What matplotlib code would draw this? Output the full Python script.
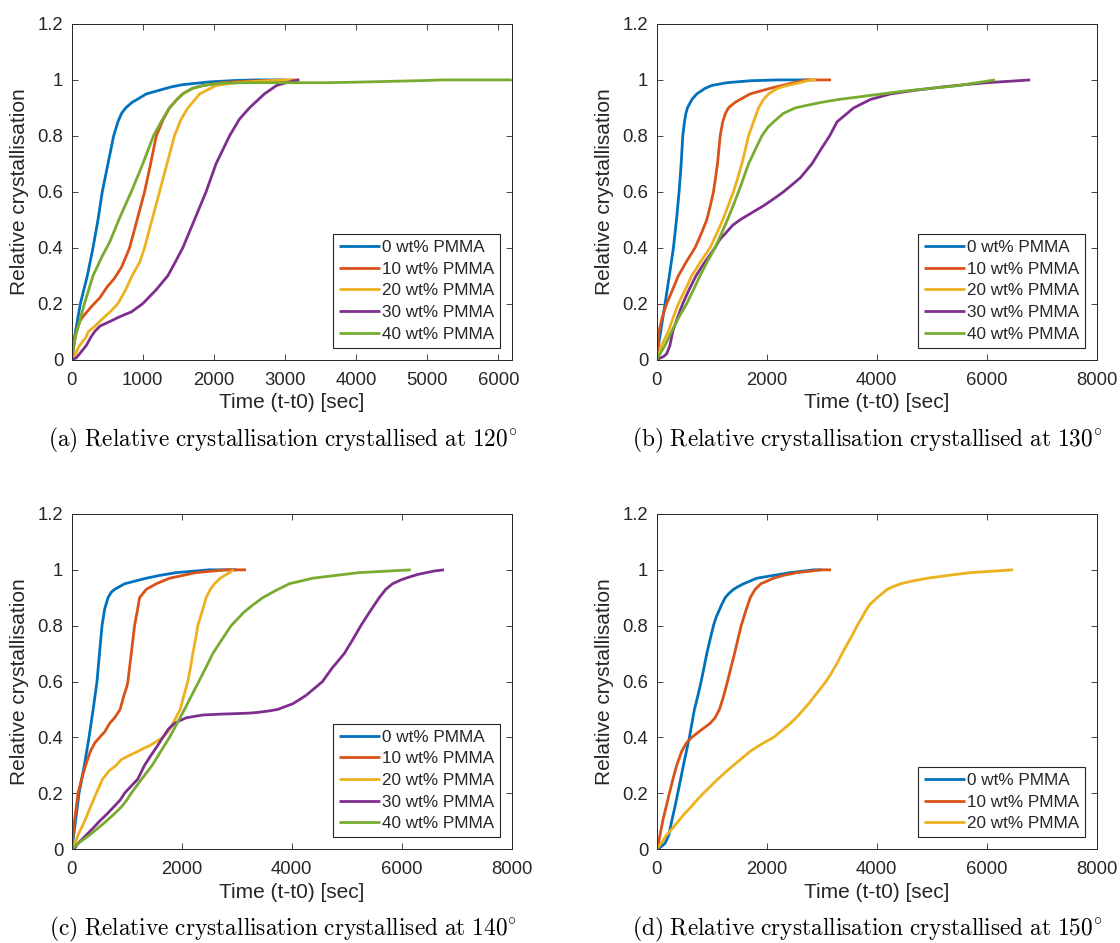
import matplotlib
matplotlib.use("Agg")
import matplotlib.pyplot as plt

plt.rcParams["font.family"] = ["Liberation Sans", "DejaVu Sans"]
plt.rcParams["mathtext.fontset"] = "cm"

# Series labels and colours
labels = ["0 wt% PMMA", "10 wt% PMMA", "20 wt% PMMA", "30 wt% PMMA", "40 wt% PMMA"]
colors = ["#0072BD", "#D95319", "#EDB120", "#7E2F8E", "#77AC30"]

# ---------------- 120 degrees ----------------
t120_0 = [0, 40, 122, 220, 300, 370, 430, 510, 590, 650, 700, 760, 850, 920, 1050, 1190, 1400, 1560, 1940, 2300, 2600, 3000]
x120_0 = [0, 0.08, 0.2, 0.3, 0.4, 0.5, 0.6, 0.7, 0.8, 0.85, 0.88, 0.9, 0.92, 0.93, 0.95, 0.96, 0.975, 0.983, 0.993, 0.998, 1.0, 1.0]
t120_10 = [0, 30, 65, 120, 180, 280, 393, 500, 600, 700, 750, 815, 920, 1025, 1110, 1190, 1290, 1375, 1480, 1560, 1700, 1850, 2100, 2400, 2800, 3200]
x120_10 = [0, 0.05, 0.1, 0.14, 0.16, 0.19, 0.22, 0.26, 0.29, 0.33, 0.36, 0.4, 0.5, 0.6, 0.7, 0.8, 0.86, 0.9, 0.93, 0.95, 0.97, 0.98, 0.99, 0.995, 0.998, 1.0]
t120_20 = [0, 50, 110, 200, 236, 330, 430, 540, 650, 760, 850, 960, 1025, 1130, 1235, 1340, 1445, 1540, 1635, 1800, 2030, 2300, 2600, 3000, 3100]
x120_20 = [0, 0.02, 0.05, 0.08, 0.1, 0.12, 0.145, 0.17, 0.2, 0.25, 0.3, 0.35, 0.4, 0.5, 0.6, 0.7, 0.8, 0.86, 0.9, 0.95, 0.98, 0.99, 0.995, 1.0, 1.0]
t120_30 = [0, 60, 110, 205, 270, 323, 400, 487, 570, 650, 740, 838, 1000, 1190, 1353, 1460, 1563, 1727, 1890, 2030, 2220, 2360, 2500, 2710, 2880, 3015, 3200]
x120_30 = [0, 0.005, 0.02, 0.05, 0.08, 0.1, 0.12, 0.13, 0.14, 0.15, 0.16, 0.17, 0.2, 0.25, 0.3, 0.35, 0.4, 0.5, 0.6, 0.7, 0.8, 0.86, 0.9, 0.95, 0.98, 0.99, 1.0]
t120_40 = [0, 50, 180, 300, 430, 534, 680, 838, 1000, 1150, 1280, 1375, 1480, 1560, 1700, 1850, 2100, 2400, 2800, 3200, 3600, 4000, 4500, 5000, 5200, 5500, 6188]
x120_40 = [0, 0.08, 0.2, 0.3, 0.37, 0.42, 0.51, 0.6, 0.7, 0.8, 0.86, 0.9, 0.93, 0.95, 0.97, 0.98, 0.988, 0.99, 0.99, 0.99, 0.99, 0.992, 0.995, 0.998, 1.0, 1.0, 1.0]

# ---------------- 130 degrees ----------------
t130_0 = [0, 30, 73, 152, 230, 304, 360, 407, 445, 474, 505, 530, 559, 640, 729, 880, 1000, 1275, 1700, 2200, 2800]
x130_0 = [0, 0.05, 0.1, 0.2, 0.3, 0.4, 0.5, 0.6, 0.7, 0.8, 0.85, 0.88, 0.9, 0.93, 0.95, 0.97, 0.98, 0.99, 0.997, 1.0, 1.0]
t130_10 = [0, 20, 40, 100, 182, 290, 395, 540, 698, 810, 911, 975, 1032, 1070, 1105, 1130, 1154, 1200, 1250, 1305, 1427, 1700, 2064, 2490, 2730, 3000, 3170]
x130_10 = [0, 0.05, 0.1, 0.15, 0.2, 0.25, 0.3, 0.35, 0.4, 0.45, 0.5, 0.55, 0.6, 0.65, 0.7, 0.75, 0.8, 0.85, 0.88, 0.9, 0.92, 0.95, 0.97, 0.99, 1.0, 1.0, 1.0]
t130_20 = [0, 40, 90, 210, 300, 395, 520, 638, 800, 971, 1090, 1202, 1300, 1396, 1475, 1548, 1610, 1670, 1760, 1852, 1940, 2034, 2200, 2370, 2600, 2800, 2900]
x130_20 = [0, 0.02, 0.05, 0.1, 0.15, 0.2, 0.25, 0.3, 0.35, 0.4, 0.45, 0.5, 0.55, 0.6, 0.65, 0.7, 0.75, 0.8, 0.85, 0.9, 0.93, 0.95, 0.97, 0.98, 0.99, 1.0, 1.0]
t130_30 = [0, 60, 120, 180, 240, 291, 380, 474, 590, 716, 880, 1062, 1150, 1245, 1380, 1518, 1730, 1943, 2130, 2307, 2460, 2611, 2823, 2980, 3145, 3279, 3582, 3886, 4250, 4700, 5200, 5600, 6000, 6400, 6790]
x130_30 = [0, 0.005, 0.01, 0.02, 0.05, 0.1, 0.15, 0.2, 0.25, 0.3, 0.35, 0.4, 0.43, 0.45, 0.48, 0.5, 0.525, 0.55, 0.575, 0.6, 0.625, 0.65, 0.7, 0.75, 0.8, 0.85, 0.9, 0.93, 0.95, 0.963, 0.975, 0.983, 0.99, 0.995, 1.0]
t130_40 = [0, 60, 150, 270, 400, 546, 670, 789, 920, 1062, 1175, 1287, 1390, 1488, 1580, 1670, 1790, 1913, 2020, 2125, 2300, 2520, 2750, 3005, 3300, 3704, 4100, 4500, 5000, 5500, 6150]
x130_40 = [0, 0.02, 0.05, 0.1, 0.15, 0.2, 0.25, 0.3, 0.35, 0.4, 0.45, 0.5, 0.55, 0.6, 0.65, 0.7, 0.75, 0.8, 0.83, 0.85, 0.88, 0.9, 0.91, 0.92, 0.93, 0.94, 0.95, 0.96, 0.97, 0.98, 1.0]

# ---------------- 140 degrees ----------------
t140_0 = [0, 50, 133, 230, 315, 390, 460, 505, 551, 600, 660, 720, 780, 962, 1355, 1600, 1900, 2200, 2500, 3000]
x140_0 = [0, 0.07, 0.2, 0.3, 0.4, 0.5, 0.6, 0.7, 0.8, 0.86, 0.9, 0.92, 0.93, 0.95, 0.97, 0.98, 0.99, 0.995, 1.0, 1.0]
t140_10 = [0, 50, 115, 180, 254, 339, 420, 508, 600, 690, 780, 880, 950, 1000, 1022, 1052, 1083, 1113, 1143, 1190, 1234, 1355, 1537, 1780, 2260, 2810, 3170]
x140_10 = [0, 0.1, 0.2, 0.25, 0.3, 0.35, 0.38, 0.4, 0.42, 0.45, 0.47, 0.5, 0.55, 0.58, 0.6, 0.65, 0.7, 0.75, 0.8, 0.85, 0.9, 0.93, 0.95, 0.97, 0.99, 1.0, 1.0]
t140_20 = [0, 60, 115, 236, 340, 448, 560, 680, 810, 900, 992, 1100, 1204, 1300, 1415, 1540, 1658, 1750, 1839, 1972, 2040, 2111, 2160, 2202, 2250, 2293, 2370, 2444, 2520, 2595, 2700, 2780, 2870, 2940]
x140_20 = [0, 0.02, 0.05, 0.1, 0.15, 0.2, 0.25, 0.28, 0.3, 0.32, 0.33, 0.34, 0.35, 0.36, 0.37, 0.385, 0.4, 0.42, 0.45, 0.5, 0.55, 0.6, 0.65, 0.7, 0.75, 0.8, 0.85, 0.9, 0.93, 0.95, 0.97, 0.98, 0.99, 1.0]
t140_30 = [0, 60, 115, 265, 390, 508, 640, 760, 880, 962, 1080, 1200, 1325, 1440, 1560, 1658, 1760, 1869, 1970, 2081, 2230, 2384, 2700, 3000, 3250, 3412, 3600, 3745, 3880, 4017, 4140, 4259, 4410, 4561, 4650, 4743, 4850, 4955, 5110, 5257, 5420, 5590, 5710, 5832, 6000, 6150, 6300, 6450, 6600, 6770]
x140_30 = [0, 0.005, 0.02, 0.05, 0.075, 0.1, 0.125, 0.15, 0.175, 0.2, 0.225, 0.25, 0.3, 0.335, 0.37, 0.4, 0.43, 0.45, 0.46, 0.47, 0.475, 0.48, 0.483, 0.485, 0.487, 0.49, 0.495, 0.5, 0.51, 0.52, 0.535, 0.55, 0.575, 0.6, 0.625, 0.65, 0.675, 0.7, 0.75, 0.8, 0.85, 0.9, 0.93, 0.95, 0.965, 0.975, 0.984, 0.99, 0.996, 1.0]
t140_40 = [0, 150, 325, 480, 630, 770, 900, 1000, 1083, 1270, 1464, 1620, 1779, 1915, 2051, 2180, 2311, 2440, 2565, 2730, 2898, 3020, 3140, 3300, 3472, 3700, 3956, 4170, 4380, 4800, 5225, 5700, 6165]
x140_40 = [0, 0.025, 0.05, 0.075, 0.1, 0.125, 0.15, 0.175, 0.2, 0.25, 0.3, 0.35, 0.4, 0.45, 0.5, 0.55, 0.6, 0.65, 0.7, 0.75, 0.8, 0.825, 0.85, 0.875, 0.9, 0.925, 0.95, 0.96, 0.97, 0.98, 0.99, 0.995, 1.0]

# ---------------- 150 degrees ----------------
t150_0 = [0, 60, 150, 220, 273, 330, 383, 435, 486, 540, 595, 640, 686, 750, 808, 860, 911, 970, 1032, 1080, 1125, 1180, 1245, 1310, 1397, 1480, 1579, 1700, 1820, 2125, 2430, 2855, 3000]
x150_0 = [0, 0.005, 0.02, 0.05, 0.1, 0.15, 0.2, 0.25, 0.3, 0.35, 0.4, 0.45, 0.5, 0.55, 0.6, 0.65, 0.7, 0.75, 0.8, 0.83, 0.85, 0.875, 0.9, 0.915, 0.93, 0.94, 0.95, 0.96, 0.97, 0.98, 0.99, 1.0, 1.0]
t150_10 = [0, 40, 80, 120, 170, 231, 295, 364, 455, 540, 638, 800, 971, 1060, 1141, 1220, 1287, 1350, 1415, 1475, 1536, 1615, 1700, 1790, 1894, 2125, 2300, 2550, 3000, 3170]
x150_10 = [0, 0.03, 0.07, 0.11, 0.15, 0.2, 0.25, 0.3, 0.35, 0.38, 0.4, 0.425, 0.45, 0.47, 0.5, 0.55, 0.6, 0.65, 0.7, 0.75, 0.8, 0.85, 0.9, 0.93, 0.95, 0.97, 0.98, 0.99, 1.0, 1.0]
t150_20 = [0, 80, 180, 290, 395, 500, 620, 730, 850, 980, 1110, 1250, 1397, 1550, 1700, 1900, 2125, 2280, 2429, 2560, 2672, 2780, 2880, 2980, 3078, 3160, 3235, 3305, 3370, 3440, 3510, 3580, 3643, 3720, 3790, 3870, 4007, 4100, 4190, 4300, 4432, 4650, 4918, 5300, 5700, 6100, 6480]
x150_20 = [0, 0.02, 0.05, 0.075, 0.1, 0.125, 0.15, 0.175, 0.2, 0.225, 0.25, 0.275, 0.3, 0.325, 0.35, 0.375, 0.4, 0.425, 0.45, 0.475, 0.5, 0.525, 0.55, 0.575, 0.6, 0.625, 0.65, 0.675, 0.7, 0.725, 0.75, 0.775, 0.8, 0.825, 0.85, 0.875, 0.9, 0.915, 0.93, 0.94, 0.95, 0.96, 0.97, 0.98, 0.99, 0.995, 1.0]

yticks = [0, 0.2, 0.4, 0.6, 0.8, 1.0, 1.2]
ytick_labels = ["0", "0.2", "0.4", "0.6", "0.8", "1", "1.2"]
xticks_a = [0, 1000, 2000, 3000, 4000, 5000, 6000]
xticks_bcd = [0, 2000, 4000, 6000, 8000]

panels = [
    dict(series=[(t120_0, x120_0), (t120_10, x120_10), (t120_20, x120_20),
                 (t120_30, x120_30), (t120_40, x120_40)],
         xlim=(0, 6188), xticks=xticks_a, temp="120", tag="a",
         rect=[71.7, 24, 511.7, 359.5]),
    dict(series=[(t130_0, x130_0), (t130_10, x130_10), (t130_20, x130_20),
                 (t130_30, x130_30), (t130_40, x130_40)],
         xlim=(0, 8000), xticks=xticks_bcd, temp="130", tag="b",
         rect=[656.7, 24, 1096.7, 359.5]),
    dict(series=[(t140_0, x140_0), (t140_10, x140_10), (t140_20, x140_20),
                 (t140_30, x140_30), (t140_40, x140_40)],
         xlim=(0, 8000), xticks=xticks_bcd, temp="140", tag="c",
         rect=[71.7, 514, 511.7, 849]),
    dict(series=[(t150_0, x150_0), (t150_10, x150_10), (t150_20, x150_20)],
         xlim=(0, 8000), xticks=xticks_bcd, temp="150", tag="d",
         rect=[656.7, 514, 1096.7, 849]),
]

W, H = 1120, 943
fig = plt.figure(figsize=(W / 100, H / 100), dpi=100)
axis_color = "#262626"

for p in panels:
    x0, y0, x1, y1 = p["rect"]
    ax = fig.add_axes([x0 / W, 1 - y1 / H, (x1 - x0) / W, (y1 - y0) / H])
    for (t, x), lab, col in zip(p["series"], labels, colors):
        ax.plot(t, x, color=col, lw=2.0, label=lab, solid_capstyle="butt",
                solid_joinstyle="round")
    ax.set_xlim(*p["xlim"])
    ax.set_ylim(0, 1.2)
    ax.set_xticks(p["xticks"])
    ax.set_xticklabels([str(v) for v in p["xticks"]])
    ax.set_yticks(yticks)
    ax.set_yticklabels(ytick_labels)
    ax.tick_params(direction="in", length=4, width=0.6, colors=axis_color,
                   labelsize=13.3, top=True, right=True)
    ax.tick_params(axis="x", pad=8.7)
    ax.tick_params(axis="y", pad=6)
    for s in ax.spines.values():
        s.set_color(axis_color)
        s.set_linewidth(0.7)
    ax.set_xlabel("Time (t-t0) [sec]", fontsize=15, color=axis_color, labelpad=3.5)
    ax.set_ylabel("Relative crystallisation", fontsize=15, color=axis_color, labelpad=6)
    leg = ax.legend(loc="lower right", bbox_to_anchor=(0.9734, 0.035),
                    borderaxespad=0, fontsize=12.3, frameon=True, fancybox=False,
                    handlelength=2.36, handletextpad=0.13, labelspacing=0.39,
                    borderpad=0.35)
    fr = leg.get_frame()
    fr.set_edgecolor(axis_color)
    fr.set_linewidth(0.8)
    fr.set_alpha(1)
    for txt in leg.get_texts():
        txt.set_color(axis_color)

    cx = (x0 + x1) / 2 - 9
    cy = y1 + 80.5
    caption = (r"$\mathrm{(" + p["tag"] + r")\ Relative\ crystallisation\ crystallised\ at\ "
               + p["temp"] + r"^{\circ}}$")
    fig.text(cx / W, 1 - cy / H, caption, ha="center", va="center", fontsize=16.8)

fig.savefig("out.png", dpi=100)
